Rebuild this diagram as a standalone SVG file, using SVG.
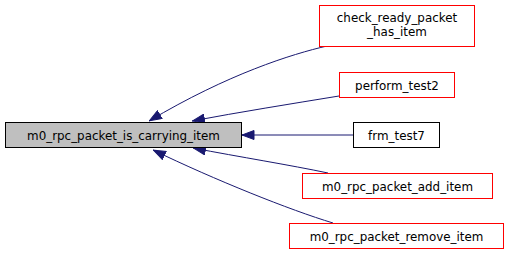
<svg xmlns="http://www.w3.org/2000/svg" width="509" height="255" viewBox="0 0 509 255">
<style>
  .node rect { stroke-width: 1; }
  .main rect { fill: #bfbfbf; stroke: #000000; }
  .red rect { fill: #ffffff; stroke: #ff0000; }
  .black rect { fill: #ffffff; stroke: #000000; }
  text { font-family: "DejaVu Sans", sans-serif; font-size: 11.9px; fill: #000000; text-anchor: middle; }
  .edge { fill: none; stroke: #191970; stroke-width: 1; }
</style>
<defs>
  <marker id="arrow" viewBox="0 0 13 10" refX="13" refY="5" markerWidth="13" markerHeight="10" markerUnits="userSpaceOnUse" orient="auto">
    <path d="M0.5,0.5 L12.5,5 L0.5,9.5 Z" fill="#191970" stroke="#191970"/>
  </marker>
</defs>
<rect width="509" height="255" fill="#ffffff"/>
<g id="edges">
  <path class="edge" marker-end="url(#arrow)" d="M327,46 C292,54 228,74 149,121"/>
  <path class="edge" marker-end="url(#arrow)" d="M339,96 C290,104 240,112 192,121"/>
  <path class="edge" marker-end="url(#arrow)" d="M353,135 L241.5,135"/>
  <path class="edge" marker-end="url(#arrow)" d="M328,173 C290,165 240,157 193,148"/>
  <path class="edge" marker-end="url(#arrow)" d="M333,223 C290,210 215,180 153,150"/>
</g>
<g id="node_main" class="node main">
  <rect x="5.5" y="122.5" width="236" height="25"/>
  <text x="123.5" y="139.5">m0_rpc_packet_is_carrying_item</text>
</g>
<g id="node_check_ready_packet_has_item" class="node red">
  <rect x="319.5" y="5.5" width="155" height="41"/>
  <text x="397" y="21.5">check_ready_packet</text>
  <text x="397" y="36">_has_item</text>
</g>
<g id="node_perform_test2" class="node red">
  <rect x="339.5" y="72.5" width="115" height="25"/>
  <text x="397" y="89.5">perform_test2</text>
</g>
<g id="node_frm_test7" class="node black">
  <rect x="353.5" y="122.5" width="86" height="25"/>
  <text x="396.5" y="139.5">frm_test7</text>
</g>
<g id="node_m0_rpc_packet_add_item" class="node red">
  <rect x="302.5" y="173.5" width="190" height="25"/>
  <text x="397.5" y="190.5">m0_rpc_packet_add_item</text>
</g>
<g id="node_m0_rpc_packet_remove_item" class="node red">
  <rect x="289.5" y="223.5" width="214" height="25"/>
  <text x="396.5" y="240.5">m0_rpc_packet_remove_item</text>
</g>
</svg>
